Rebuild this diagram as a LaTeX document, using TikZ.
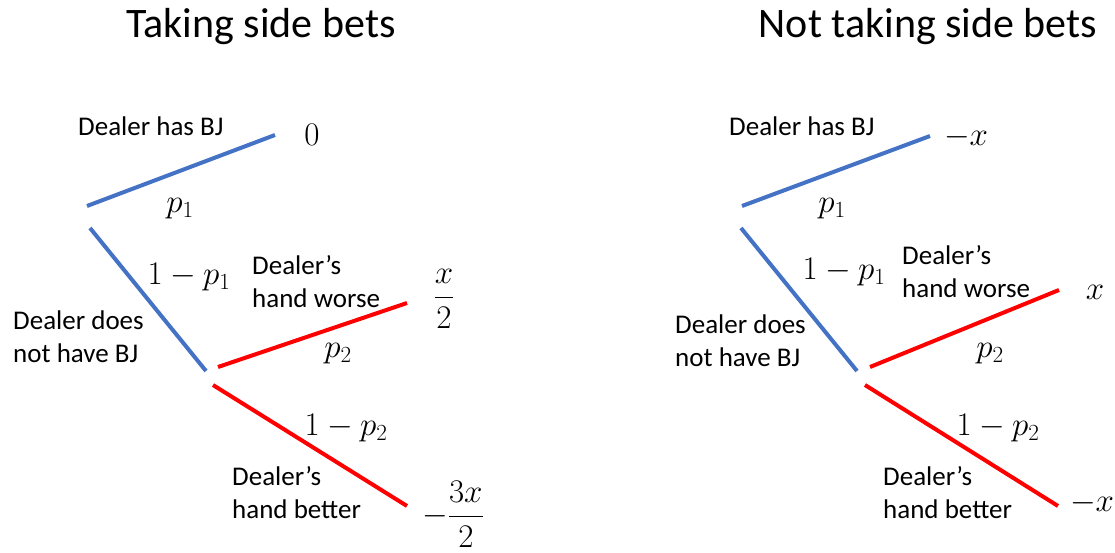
\RequirePackage{fix-cm}
\documentclass[tikz,border=0pt]{standalone}
\usepackage[no-math]{fontspec}
\setmainfont{Carlito}
\usepackage{amsmath}
\usepackage{tikz}
\usetikzlibrary{positioning}

\definecolor{bjblue}{HTML}{4472C4}
\definecolor{bjred}{HTML}{FF0000}

\begin{document}
\begin{tikzpicture}[
            x=1pt, y=-1pt,
            % text and math sizes
            title/.style={inner sep=0pt, font=\fontsize{42}{46}\selectfont},
            txt/.style={inner sep=0pt, anchor=west, align=left, font=\fontsize{27}{33}\selectfont},
            val/.style={inner sep=0pt, font=\fontsize{33}{36}\selectfont},
            % branches
            bjbranch/.style={line width=4pt, bjblue},
            handbranch/.style={line width=4pt, bjred}
        ]
        \useasboundingbox (0,0) rectangle (1115,553);

        % Titles
        \node[title] (ttake) at (261,27) {Taking side bets};
        \node[title] (tnot) at (928,27) {Not taking side bets};

        % Left tree: branch ends
        \coordinate (lA1) at (87,206);  \coordinate (lA2) at (275,135);
        \coordinate (lB1) at (90,228);  \coordinate (lB2) at (206,371);
        \coordinate (lC1) at (218,367); \coordinate (lC2) at (407,303);
        \coordinate (lD1) at (213,385); \coordinate (lD2) at (407,506);

        \draw[bjbranch] (lA1) -- (lA2);
        \draw[bjbranch] (lB1) -- (lB2);
        \draw[handbranch] (lC1) -- (lC2);
        \draw[handbranch] (lD1) -- (lD2);

        % Left tree: labels
        \node[txt] (lhas) at (78,126) {Dealer has BJ};
        \node[txt] (lnot) at (13,337) {Dealer does\\not have BJ};
        \node[txt] (lworse) at (252,282) {Dealer’s\\hand worse};
        \node[txt] (lbetter) at (232,493) {Dealer’s\\hand better};
        \node[val] (lp1) at (180,209) {$p_1$};
        \node[val] (lq1) at (189,277) {$1-p_1$};
        \node[val] (lp2) at (338,354) {$p_2$};
        \node[val] (lq2) at (346,428) {$1-p_2$};
        \node[val] (lv0) at (312,135) {$0$};
        \node[val] (lvw) at (444,299) {$\dfrac{x}{2}$};
        \node[val] (lvb) at (453,514) {$-\dfrac{3x}{2}$};

        % Right tree: branch ends
        \coordinate (rA1) at (742,206); \coordinate (rA2) at (930,136);
        \coordinate (rB1) at (741,228); \coordinate (rB2) at (857,371);
        \coordinate (rC1) at (870,367); \coordinate (rC2) at (1059,290);
        \coordinate (rD1) at (865,385); \coordinate (rD2) at (1058,506);

        \draw[bjbranch] (rA1) -- (rA2);
        \draw[bjbranch] (rB1) -- (rB2);
        \draw[handbranch] (rC1) -- (rC2);
        \draw[handbranch] (rD1) -- (rD2);

        % Right tree: labels
        \node[txt] (rhas) at (729,126) {Dealer has BJ};
        \node[txt] (rnot) at (675,341) {Dealer does\\not have BJ};
        \node[txt] (rworse) at (902,272) {Dealer’s\\hand worse};
        \node[txt] (rbetter) at (883,493) {Dealer’s\\hand better};
        \node[val] (rp1) at (832,209) {$p_1$};
        \node[val] (rq1) at (844,272) {$1-p_1$};
        \node[val] (rp2) at (990,354) {$p_2$};
        \node[val] (rq2) at (998,428) {$1-p_2$};
        \node[val] (rv0) at (966,137) {$-x$};
        \node[val] (rvw) at (1095,292) {$x$};
        \node[val] (rvb) at (1092,503) {$-x$};

\end{tikzpicture}
\end{document}
